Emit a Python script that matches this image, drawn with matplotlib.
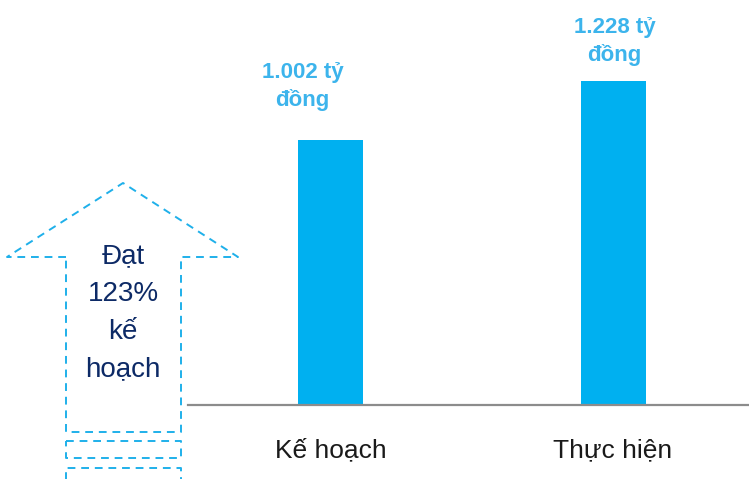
import matplotlib
matplotlib.use("Agg")
from matplotlib import pyplot as plt

categories = ["Kế hoạch", "Thực hiện"]
values = [1.002, 1.228]
value_labels = ["1.002 tỷ\nđồng", "1.228 tỷ\nđồng"]
arrow_text = "Đạt\n123%\nkế\nhoạch"

plt.rcParams['font.family'] = ['Liberation Sans', 'DejaVu Sans']

W, H = 749, 479
fig = plt.figure(figsize=(W / 100, H / 100), dpi=100)

# decorative dashed arrow in pixel coordinates (drawn first, underneath)
ov = fig.add_axes([0, 0, 1, 1])
ov.set_xlim(0, W)
ov.set_ylim(H, 0)
ov.axis('off')
dash = dict(color="#1fb0ea", lw=1.4, ls=(0, (4, 3)))
ov.plot([66, 7, 123, 238, 181, 181, 66, 66],
        [257, 257, 183, 257, 257, 432, 432, 257], **dash)
ov.plot([66, 181, 181, 66, 66], [441, 441, 458, 458, 441], **dash)
ov.plot([66, 66, 181, 181], [485, 468, 468, 485], **dash)
ov.text(123, 313, arrow_text, ha='center', va='center', fontsize=20,
        color="#0d2a66", linespacing=1.58)

# main bar axes (pixel box: x 188..749, y 0..405)
ax = fig.add_axes([188 / W, (H - 405) / H, (W - 188) / W, 405 / H])
ax.patch.set_alpha(0)
bar_color = "#00b0f0"
x = list(range(len(categories)))
ax.bar(x, values, width=0.23, color=bar_color, zorder=2)
ax.set_xlim(-0.504, 1.481)
ax.set_ylim(0, 1.534)
for s in ['top', 'right', 'left']:
    ax.spines[s].set_visible(False)
ax.spines['bottom'].set_color("#8c8c8c")
ax.spines['bottom'].set_linewidth(1.6)
ax.set_yticks([])
ax.set_xticks(x)
ax.set_xticklabels(categories, fontsize=19, color="#1a1a1a")
ax.tick_params(axis='x', length=0, pad=24)

offsets = [(-20, 21), (1, 11)]
for xi, v, lab, off in zip(x, values, value_labels, offsets):
    ax.annotate(lab, (xi, v), xytext=off, textcoords='offset points',
                ha='center', va='bottom', fontsize=16, fontweight='bold',
                color="#3cb4ec", linespacing=1.35)

fig.savefig("out.png", dpi=100)
